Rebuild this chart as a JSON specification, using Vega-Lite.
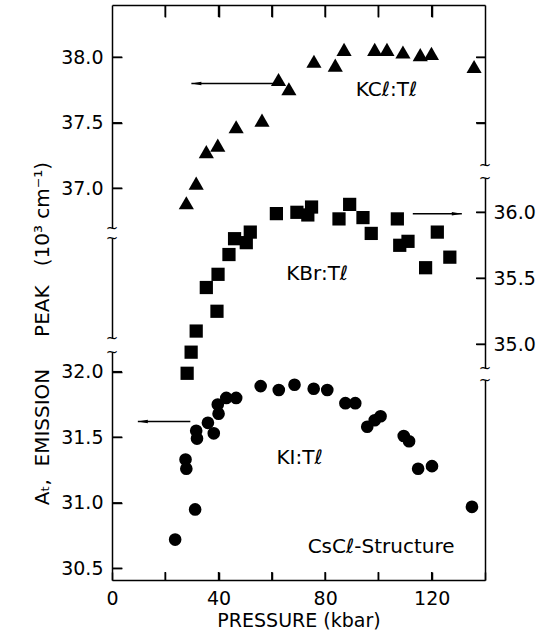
{
  "$schema": "https://vega.github.io/schema/vega-lite/v6.json",
  "width": 373,
  "height": 575,
  "autosize": "none",
  "padding": {"left": 112, "top": 5, "right": 55, "bottom": 59},
  "background": "white",
  "config": {
    "view": {"stroke": null},
    "axis": {
      "grid": false,
      "zindex": 1,
      "domainColor": "black",
      "domainWidth": 1.5,
      "tickColor": "black",
      "tickWidth": 1.5,
      "labelColor": "black",
      "labelFont": "DejaVu Sans",
      "labelFontSize": 19,
      "labelFlush": false,
      "labelOverlap": false,
      "titleColor": "black",
      "titleFont": "DejaVu Sans",
      "titleFontSize": 19,
      "titleFontWeight": "normal"
    },
    "text": {"font": "DejaVu Sans", "color": "black"}
  },
  "resolve": {"scale": {"y": "independent"}, "axis": {"x": "independent", "y": "independent"}},
  "layer": [
    {
      "data": {"values": [
        {"k": "pt", "x": 27.9, "y": 36.89},
        {"k": "pt", "x": 31.6, "y": 37.04},
        {"k": "pt", "x": 35.4, "y": 37.28},
        {"k": "pt", "x": 39.7, "y": 37.33},
        {"k": "pt", "x": 46.6, "y": 37.47},
        {"k": "pt", "x": 56.3, "y": 37.52},
        {"k": "pt", "x": 62.5, "y": 37.83},
        {"k": "pt", "x": 66.4, "y": 37.76},
        {"k": "pt", "x": 75.8, "y": 37.97},
        {"k": "pt", "x": 83.8, "y": 37.94},
        {"k": "pt", "x": 87.1, "y": 38.06},
        {"k": "pt", "x": 98.6, "y": 38.06},
        {"k": "pt", "x": 103.2, "y": 38.06},
        {"k": "pt", "x": 109.2, "y": 38.04},
        {"k": "pt", "x": 115.7, "y": 38.02},
        {"k": "pt", "x": 119.9, "y": 38.03},
        {"k": "pt", "x": 135.9, "y": 37.93},
        {"k": "tk", "x": 0, "x2": 3.75, "y": 37.0, "y2": 37.0},
        {"k": "tk", "x": 0, "x2": 3.75, "y": 37.5, "y2": 37.5},
        {"k": "tk", "x": 0, "x2": 3.75, "y": 38.0, "y2": 38.0}
      ]},
      "encoding": {
        "x": {"field": "x", "type": "quantitative", "scale": {"domain": [0, 140], "nice": false, "zero": false},
          "axis": {"orient": "bottom", "offset": -8, "tickSize": 8, "domain": false, "values": [0, 20, 40, 60, 80, 100, 120, 140], "labelExpr": "datum.value % 40 === 0 ? datum.label : ''", "labelPadding": 9, "title": "PRESSURE (kbar)", "titlePadding": 3}},
        "y": {"field": "y", "type": "quantitative", "scale": {"domain": [36.697, 38.399], "range": [223, 0], "nice": false, "zero": false},
          "axis": {"orient": "left", "offset": -10, "tickSize": 10, "domain": false, "values": [37, 37.5, 38], "format": ".1f", "labelPadding": 9,
            "title": "Aₜ,\u00a0 EMISSION\u00a0\u00a0\u00a0\u00a0 PEAK\u00a0\u00a0 (10³ cm⁻¹)", "titleFontSize": 20, "titleAngle": -90, "titleX": -74, "titleY": 328, "titleAlign": "center", "titleBaseline": "alphabetic"}}
      },
      "layer": [
        {"transform": [{"filter": "datum.k === 'pt'"}], "mark": {"type": "point", "shape": "triangle-up", "filled": true, "size": 230, "color": "black", "opacity": 1}},
        {"transform": [{"filter": "datum.k === 'tk'"}], "mark": {"type": "rule", "strokeWidth": 1.5, "color": "black"}, "encoding": {"x2": {"field": "x2"}, "y2": {"field": "y2"}}}
      ]
    },
    {
      "data": {"values": [
        {"k": "brk", "x": 0, "y": 36.697, "t": "~"}
      ]},
      "encoding": {
        "x": {"field": "x", "type": "quantitative", "scale": {"domain": [0, 140], "nice": false, "zero": false},
          "axis": {"orient": "bottom", "ticks": false, "labels": false, "title": null}},
        "y": {"field": "y", "type": "quantitative", "scale": {"domain": [36.697, 38.399], "range": [223, 0], "nice": false, "zero": false},
          "axis": {"orient": "left", "ticks": false, "labels": false, "title": null}},
        "text": {"field": "t"}
      },
      "mark": {"type": "text", "fontSize": 15, "align": "center", "baseline": "middle"}
    },
    {
      "data": {"values": [
        {"k": "arrow", "x": 61.7, "x2": 29.8, "y": 37.80, "y2": 37.80},
        {"k": "headL", "x": 29.8, "y": 37.80},
        {"k": "lab", "x": 103, "y": 37.75, "t": "KCℓ:Tℓ"},
        {"k": "tk", "x": 20, "x2": 20, "y": 38.399, "y2": 38.307},
        {"k": "tk", "x": 40, "x2": 40, "y": 38.399, "y2": 38.307},
        {"k": "tk", "x": 60, "x2": 60, "y": 38.399, "y2": 38.307},
        {"k": "tk", "x": 80, "x2": 80, "y": 38.399, "y2": 38.307},
        {"k": "tk", "x": 100, "x2": 100, "y": 38.399, "y2": 38.307},
        {"k": "tk", "x": 120, "x2": 120, "y": 38.399, "y2": 38.307},
        {"k": "tk", "x": 136.62, "x2": 140, "y": 37.5, "y2": 37.5},
        {"k": "tk", "x": 136.62, "x2": 140, "y": 38.0, "y2": 38.0}
      ]},
      "encoding": {
        "x": {"field": "x", "type": "quantitative", "scale": {"domain": [0, 140], "nice": false, "zero": false},
          "axis": {"orient": "top", "offset": -12, "tickSize": 12, "domain": false, "values": [20, 40, 60, 80, 100, 120], "labels": false, "title": null}},
        "y": {"field": "y", "type": "quantitative", "scale": {"domain": [37.178, 38.399], "range": [160, 0], "nice": false, "zero": false},
          "axis": {"orient": "right", "offset": -9, "tickSize": 9, "domain": false, "values": [37.5, 38], "labels": false, "title": null}}
      },
      "layer": [
        {"transform": [{"filter": "datum.k === 'arrow' || datum.k === 'tk'"}], "mark": {"type": "rule", "strokeWidth": 1.5, "color": "black"}, "encoding": {"x2": {"field": "x2"}, "y2": {"field": "y2"}}},
        {"transform": [{"filter": "datum.k === 'headL'"}], "mark": {"type": "point", "shape": "M 0 0 L 2 -0.35 L 2 0.35 Z", "filled": true, "size": 100, "color": "black", "opacity": 1}},
        {"transform": [{"filter": "datum.k === 'lab'"}], "mark": {"type": "text", "fontSize": 20, "align": "center", "baseline": "middle"}, "encoding": {"text": {"field": "t"}}}
      ]
    },
    {
      "data": {"values": [
        {"k": "brk", "x": 140, "y": 37.178, "t": "~"}
      ]},
      "encoding": {
        "x": {"field": "x", "type": "quantitative", "scale": {"domain": [0, 140], "nice": false, "zero": false},
          "axis": {"orient": "top", "ticks": false, "labels": false, "title": null}},
        "y": {"field": "y", "type": "quantitative", "scale": {"domain": [37.178, 38.399], "range": [160, 0], "nice": false, "zero": false},
          "axis": {"orient": "right", "ticks": false, "labels": false, "title": null}},
        "text": {"field": "t"}
      },
      "mark": {"type": "text", "fontSize": 15, "align": "center", "baseline": "middle"}
    },
    {
      "data": {"values": [
        {"k": "pt", "x": 28.2, "y": 34.78},
        {"k": "pt", "x": 29.7, "y": 34.94},
        {"k": "pt", "x": 31.6, "y": 35.10},
        {"k": "pt", "x": 39.4, "y": 35.25},
        {"k": "pt", "x": 35.4, "y": 35.43},
        {"k": "pt", "x": 39.8, "y": 35.53},
        {"k": "pt", "x": 43.9, "y": 35.68},
        {"k": "pt", "x": 46.0, "y": 35.80},
        {"k": "pt", "x": 50.4, "y": 35.77},
        {"k": "pt", "x": 51.9, "y": 35.85},
        {"k": "pt", "x": 61.7, "y": 35.99},
        {"k": "pt", "x": 69.4, "y": 36.00},
        {"k": "pt", "x": 73.5, "y": 35.98},
        {"k": "pt", "x": 74.9, "y": 36.04},
        {"k": "pt", "x": 85.2, "y": 35.95},
        {"k": "pt", "x": 89.2, "y": 36.06},
        {"k": "pt", "x": 94.2, "y": 35.96},
        {"k": "pt", "x": 97.3, "y": 35.84},
        {"k": "pt", "x": 107.1, "y": 35.95},
        {"k": "pt", "x": 108.0, "y": 35.75},
        {"k": "pt", "x": 111.1, "y": 35.78},
        {"k": "pt", "x": 117.7, "y": 35.58},
        {"k": "pt", "x": 122.1, "y": 35.85},
        {"k": "pt", "x": 126.8, "y": 35.66},
        {"k": "arrow", "x": 112.9, "x2": 131.3, "y": 35.99, "y2": 35.99},
        {"k": "headR", "x": 131.3, "y": 35.99},
        {"k": "lab", "x": 77, "y": 35.53, "t": "KBr:Tℓ"},
        {"k": "brk", "x": 140, "y": 36.26, "t": "~"},
        {"k": "tk", "x": 136.62, "x2": 140, "y": 35.0, "y2": 35.0},
        {"k": "tk", "x": 136.62, "x2": 140, "y": 35.5, "y2": 35.5},
        {"k": "tk", "x": 136.62, "x2": 140, "y": 36.0, "y2": 36.0}
      ]},
      "encoding": {
        "x": {"field": "x", "type": "quantitative", "scale": {"domain": [0, 140], "nice": false, "zero": false}, "axis": null},
        "y": {"field": "y", "type": "quantitative", "scale": {"domain": [34.82, 36.26], "range": [363, 173], "nice": false, "zero": false},
          "axis": {"orient": "right", "offset": -9, "tickSize": 9, "domain": false, "values": [35, 35.5, 36], "format": ".1f", "labelPadding": 8, "title": null}}
      },
      "layer": [
        {"transform": [{"filter": "datum.k === 'pt'"}], "mark": {"type": "point", "shape": "square", "filled": true, "size": 175, "color": "black", "opacity": 1}},
        {"transform": [{"filter": "datum.k === 'arrow' || datum.k === 'tk'"}], "mark": {"type": "rule", "strokeWidth": 1.5, "color": "black"}, "encoding": {"x2": {"field": "x2"}, "y2": {"field": "y2"}}},
        {"transform": [{"filter": "datum.k === 'headR'"}], "mark": {"type": "point", "shape": "M 0 0 L -2 -0.35 L -2 0.35 Z", "filled": true, "size": 100, "color": "black", "opacity": 1}},
        {"transform": [{"filter": "datum.k === 'lab'"}], "mark": {"type": "text", "fontSize": 20, "align": "center", "baseline": "middle"}, "encoding": {"text": {"field": "t"}}},
        {"transform": [{"filter": "datum.k === 'brk'"}], "mark": {"type": "text", "fontSize": 15, "align": "center", "baseline": "middle"}, "encoding": {"text": {"field": "t"}}}
      ]
    },
    {
      "data": {"values": [
        {"k": "brk", "x": 140, "y": 34.82, "t": "~"}
      ]},
      "encoding": {
        "x": {"field": "x", "type": "quantitative", "scale": {"domain": [0, 140], "nice": false, "zero": false}, "axis": null},
        "y": {"field": "y", "type": "quantitative", "scale": {"domain": [34.82, 36.26], "range": [363, 173], "nice": false, "zero": false},
          "axis": {"orient": "right", "ticks": false, "labels": false, "title": null}},
        "text": {"field": "t"}
      },
      "mark": {"type": "text", "fontSize": 15, "align": "center", "baseline": "middle"}
    },
    {
      "data": {"values": [
        {"k": "brk", "x": 0, "y": 35.805, "t": "~"},
        {"k": "brk", "x": 0, "y": 35.049, "t": "~"}
      ]},
      "encoding": {
        "x": {"field": "x", "type": "quantitative", "scale": {"domain": [0, 140], "nice": false, "zero": false}, "axis": null},
        "y": {"field": "y", "type": "quantitative", "scale": {"domain": [35.049, 35.805], "range": [333, 233], "nice": false, "zero": false},
          "axis": {"orient": "left", "ticks": false, "labels": false, "title": null}},
        "text": {"field": "t"}
      },
      "mark": {"type": "text", "fontSize": 15, "align": "center", "baseline": "middle"}
    },
    {
      "data": {"values": [
        {"k": "pt", "x": 23.7, "y": 30.72},
        {"k": "pt", "x": 27.6, "y": 31.33},
        {"k": "pt", "x": 27.9, "y": 31.26},
        {"k": "pt", "x": 31.2, "y": 30.95},
        {"k": "pt", "x": 31.6, "y": 31.55},
        {"k": "pt", "x": 31.9, "y": 31.49},
        {"k": "pt", "x": 36.0, "y": 31.61},
        {"k": "pt", "x": 38.2, "y": 31.53},
        {"k": "pt", "x": 40.0, "y": 31.68},
        {"k": "pt", "x": 39.7, "y": 31.75},
        {"k": "pt", "x": 42.9, "y": 31.80},
        {"k": "pt", "x": 46.6, "y": 31.80},
        {"k": "pt", "x": 55.8, "y": 31.89},
        {"k": "pt", "x": 62.6, "y": 31.86},
        {"k": "pt", "x": 68.5, "y": 31.90},
        {"k": "pt", "x": 75.7, "y": 31.87},
        {"k": "pt", "x": 80.8, "y": 31.86},
        {"k": "pt", "x": 87.6, "y": 31.76},
        {"k": "pt", "x": 91.3, "y": 31.76},
        {"k": "pt", "x": 95.8, "y": 31.58},
        {"k": "pt", "x": 98.6, "y": 31.63},
        {"k": "pt", "x": 100.8, "y": 31.66},
        {"k": "pt", "x": 109.5, "y": 31.51},
        {"k": "pt", "x": 111.5, "y": 31.47},
        {"k": "pt", "x": 114.9, "y": 31.26},
        {"k": "pt", "x": 120.1, "y": 31.28},
        {"k": "pt", "x": 135.1, "y": 30.97},
        {"k": "arrow", "x": 29.4, "x2": 9.7, "y": 31.62, "y2": 31.62},
        {"k": "headL", "x": 9.7, "y": 31.62},
        {"k": "lab", "x": 70.4, "y": 31.34, "t": "KI:Tℓ"},
        {"k": "lab", "x": 101, "y": 30.66, "t": "CsCℓ-Structure"},
        {"k": "tk", "x": 0, "x2": 3.75, "y": 30.5, "y2": 30.5},
        {"k": "tk", "x": 0, "x2": 3.75, "y": 31.0, "y2": 31.0},
        {"k": "tk", "x": 0, "x2": 3.75, "y": 31.5, "y2": 31.5},
        {"k": "tk", "x": 0, "x2": 3.75, "y": 32.0, "y2": 32.0},
        {"k": "tk", "x": 20, "x2": 20, "y": 30.412, "y2": 30.473},
        {"k": "tk", "x": 40, "x2": 40, "y": 30.412, "y2": 30.473},
        {"k": "tk", "x": 60, "x2": 60, "y": 30.412, "y2": 30.473},
        {"k": "tk", "x": 80, "x2": 80, "y": 30.412, "y2": 30.473},
        {"k": "tk", "x": 100, "x2": 100, "y": 30.412, "y2": 30.473},
        {"k": "tk", "x": 120, "x2": 120, "y": 30.412, "y2": 30.473}
      ]},
      "encoding": {
        "x": {"field": "x", "type": "quantitative", "scale": {"domain": [0, 140], "nice": false, "zero": false}, "axis": null},
        "y": {"field": "y", "type": "quantitative", "scale": {"domain": [30.412, 32.15], "range": [575, 347], "nice": false, "zero": false},
          "axis": {"orient": "left", "offset": -10, "tickSize": 10, "domain": false, "values": [30.5, 31, 31.5, 32], "format": ".1f", "labelPadding": 9, "title": null}}
      },
      "layer": [
        {"transform": [{"filter": "datum.k === 'pt'"}], "mark": {"type": "point", "shape": "circle", "filled": true, "size": 160, "color": "black", "opacity": 1}},
        {"transform": [{"filter": "datum.k === 'arrow' || datum.k === 'tk'"}], "mark": {"type": "rule", "strokeWidth": 1.5, "color": "black"}, "encoding": {"x2": {"field": "x2"}, "y2": {"field": "y2"}}},
        {"transform": [{"filter": "datum.k === 'headL'"}], "mark": {"type": "point", "shape": "M 0 0 L 2 -0.35 L 2 0.35 Z", "filled": true, "size": 100, "color": "black", "opacity": 1}},
        {"transform": [{"filter": "datum.k === 'lab'"}], "mark": {"type": "text", "fontSize": 20, "align": "center", "baseline": "middle"}, "encoding": {"text": {"field": "t"}}}
      ]
    },
    {
      "data": {"values": [
        {"k": "brk", "x": 0, "y": 32.15, "t": "~"}
      ]},
      "encoding": {
        "x": {"field": "x", "type": "quantitative", "scale": {"domain": [0, 140], "nice": false, "zero": false}, "axis": null},
        "y": {"field": "y", "type": "quantitative", "scale": {"domain": [30.412, 32.15], "range": [575, 347], "nice": false, "zero": false},
          "axis": {"orient": "left", "ticks": false, "labels": false, "title": null}},
        "text": {"field": "t"}
      },
      "mark": {"type": "text", "fontSize": 15, "align": "center", "baseline": "middle"}
    },
    {
      "data": {"values": [
        {"k": "brk", "x": 140, "y": 31.937, "t": "~"}
      ]},
      "encoding": {
        "x": {"field": "x", "type": "quantitative", "scale": {"domain": [0, 140], "nice": false, "zero": false}, "axis": null},
        "y": {"field": "y", "type": "quantitative", "scale": {"domain": [30.412, 31.937], "range": [575, 375], "nice": false, "zero": false},
          "axis": {"orient": "right", "ticks": false, "labels": false, "title": null}},
        "text": {"field": "t"}
      },
      "mark": {"type": "text", "fontSize": 15, "align": "center", "baseline": "middle"}
    }
  ]
}
